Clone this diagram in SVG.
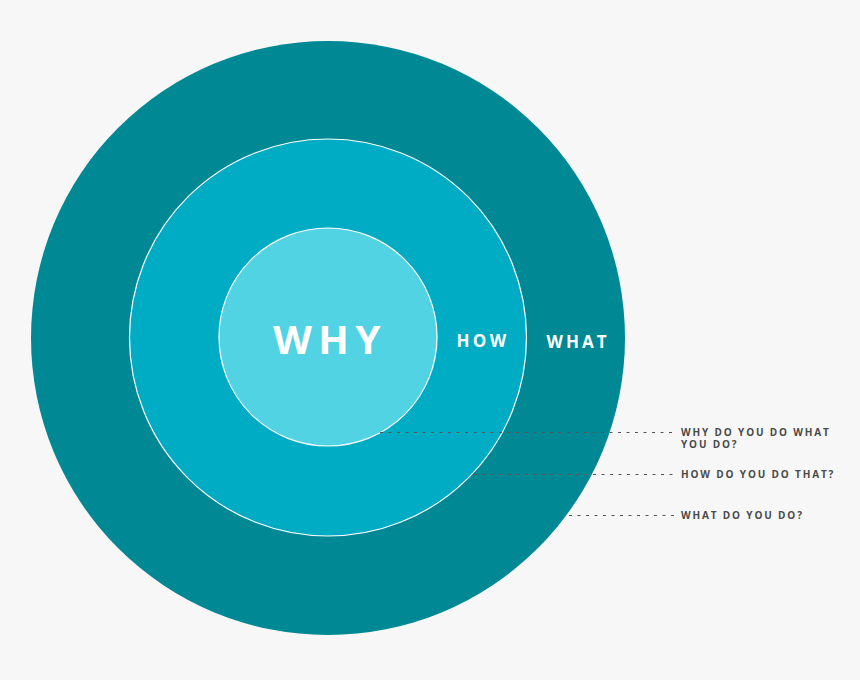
<svg xmlns="http://www.w3.org/2000/svg" width="860" height="680" viewBox="0 0 860 680">
<style>
.ring{stroke:#ffffff;stroke-width:1.2}
.big{font-family:"Open Sans","Liberation Sans",sans-serif;font-weight:700;fill:#ffffff}
.lbl{font-family:"Open Sans","Liberation Sans",sans-serif;font-weight:700;font-size:10px;letter-spacing:1.85px;fill:#4a4a4a}
.dash{stroke:#555555;stroke-width:1;stroke-dasharray:3 5.5;fill:none}
</style>
<rect width="860" height="680" fill="#f7f7f7"/>
<g id="what-circle"><circle cx="328" cy="338" r="297" fill="#008894"/><text class="big" x="578" y="348" font-size="17" letter-spacing="3" text-anchor="middle">WHAT</text></g>
<g id="how-circle"><circle class="ring" cx="328" cy="337.5" r="198.5" fill="#00abc4"/><text class="big" x="483" y="347" font-size="17" letter-spacing="3.4" text-anchor="middle">HOW</text></g>
<g id="why-circle"><circle class="ring" cx="328" cy="337" r="109" fill="#52d3e3"/><text class="big" x="330" y="354" font-size="40" letter-spacing="6.5" text-anchor="middle">WHY</text></g>
<g id="connectors">
<line class="dash" x1="380" y1="432.5" x2="674" y2="432.5"/>
<line class="dash" x1="474" y1="474.5" x2="674" y2="474.5"/>
<line class="dash" x1="569" y1="515.5" x2="674" y2="515.5"/>
</g>
<g id="label-why"><text class="lbl" x="681" y="435.5">WHY DO YOU DO WHAT</text><text class="lbl" x="681" y="448">YOU DO?</text></g>
<g id="label-how"><text class="lbl" x="681" y="477.5">HOW DO YOU DO THAT?</text></g>
<g id="label-what"><text class="lbl" x="681" y="518.5">WHAT DO YOU DO?</text></g>
</svg>
